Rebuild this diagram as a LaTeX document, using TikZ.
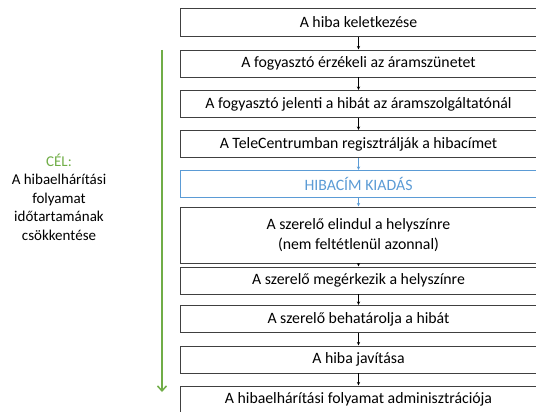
\documentclass[tikz,border=0pt]{standalone}
\usepackage{fontspec}
\setmainfont{Carlito}
\usetikzlibrary{arrows.meta}
\tikzset{>=stealth}
\definecolor{celzold}{RGB}{112,173,71}
\definecolor{kiadaskek}{RGB}{91,155,213}
\tikzset{lepes/.style={draw=black!75,line width=0.8pt,minimum width=357pt,
    minimum height=27pt,inner sep=0pt,align=center,font=\fontsize{15.8}{20}\selectfont},
  kiadas/.style={lepes,draw=kiadaskek,text=kiadaskek},
  nyil/.style={->,black,line width=0.5pt,shorten >=0.3pt},
  kéknyil/.style={nyil,kiadaskek}}

\begin{document}
\begin{tikzpicture}[x=1pt,y=-1pt]
\useasboundingbox (0,0) rectangle (536,412);
\node[lepes,minimum height=28pt] (hiba) at (358.5,22.5) {A hiba keletkezése};
\node[lepes] (erzekel) at (358.5,63.5) {A fogyasztó érzékeli az áramszünetet};
\node[lepes] (jelent) at (358.5,104) {A fogyasztó jelenti a hibát az áramszolgáltatónál};
\node[lepes] (regiszt) at (358.5,144) {A TeleCentrumban regisztrálják a hibacímet};
\node[kiadas] (kiadas) at (358.5,184) {HIBACÍM KIADÁS};
\node[lepes,minimum height=56pt] (elindul) at (358.5,235) {A szerelő elindul a helyszínre\\(nem feltétlenül azonnal)};
\node[lepes] (megerkez) at (358.5,280.5) {A szerelő megérkezik a helyszínre};
\node[lepes] (behatarol) at (358.5,319) {A szerelő behatárolja a hibát};
\node[lepes] (javitas) at (358.5,359.5) {A hiba javítása};
\node[lepes] (admin) at (358.5,399.5) {A hibaelhárítási folyamat adminisztrációja};
\draw[nyil] (hiba) -- (erzekel);
\draw[nyil] (erzekel) -- (jelent);
\draw[nyil] (jelent) -- (regiszt);
\draw[kéknyil] (regiszt) -- (kiadas);
\draw[kéknyil] (kiadas) -- (elindul);
\draw[nyil] (elindul) -- (megerkez);
\draw[nyil] (megerkez) -- (behatarol);
\draw[nyil] (behatarol) -- (javitas);
\draw[nyil] (javitas) -- (admin);
% cél
\coordinate (celfent) at (162,50);
\coordinate (cellent) at (162,392);
\draw[celzold,line width=1.5pt,-{Straight Barb[length=5pt,width=9pt]}] (celfent) -- (cellent);
\node[align=center,font=\fontsize{15}{18.5}\selectfont] (cel) at (59,197)
  {\textcolor{celzold}{CÉL:}\\A hibaelhárítási\\folyamat\\időtartamának\\csökkentése};
\end{tikzpicture}
\end{document}
